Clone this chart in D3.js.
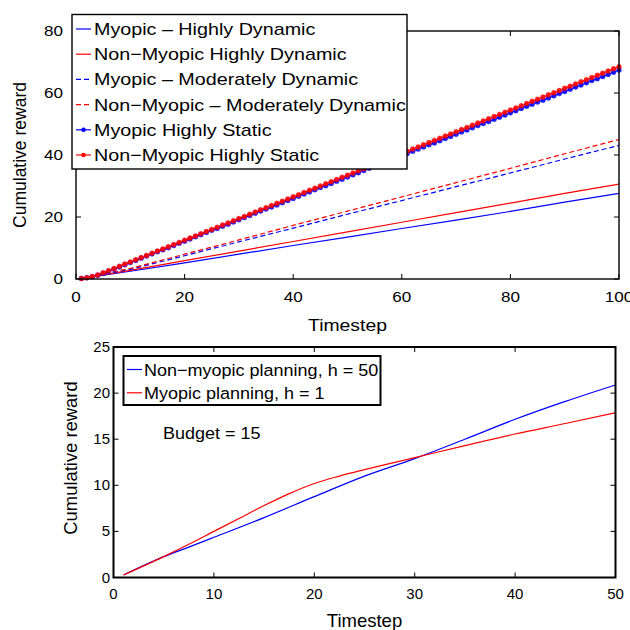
<!DOCTYPE html>
<html><head><meta charset="utf-8">
<script src="https://cdn.jsdelivr.net/npm/d3@7"></script>
<style>
body{margin:0;background:#fff;}
svg{display:block;font-family:"Liberation Sans",Arial,Helvetica,sans-serif;}
</style></head>
<body><svg id="c" width="630" height="630"></svg>
<script>
// ---------- Top chart data ----------
const topTicksX = [0,20,40,60,80,100];
const topTicksY = [0,20,40,60,80];
const dynX = [1,10,20,30,40,50,60,70,80,90,100];
const myopicHighDyn    = [0.2,2.5,5.2,8.0,10.8,13.5,16.3,19.0,21.8,24.8,27.6];
const nonMyopicHighDyn = [0.2,2.8,5.9,9.0,12.1,15.2,18.3,21.4,24.5,27.6,30.6];
const myopicModDyn     = [0.2,3.1,7.5,12.0,16.4,20.9,25.3,29.8,34.2,38.7,43.1];
const nonMyopicModDyn  = [0.2,3.4,8.0,12.6,17.3,21.9,26.5,31.1,35.7,40.4,45.0];
const staticX = d3.range(1,101);
const myopicStatic = [0.2,0.4,0.7,1.2,1.8,2.5,3.2,3.9,4.6,5.3,6.0,6.7,7.4,8.1,8.8,9.4,10.1,10.8,11.5,12.2,
 12.9,13.6,14.3,15.0,15.7,16.3,17.0,17.7,18.4,19.1,19.8,20.5,21.2,21.9,22.6,23.2,23.9,24.6,25.3,26.0,
 26.7,27.4,28.1,28.8,29.5,30.1,30.8,31.5,32.2,32.9,33.6,34.3,35.0,35.7,36.4,37.0,37.7,38.4,39.1,39.8,
 40.5,41.2,41.9,42.6,43.3,43.9,44.6,45.3,46.0,46.7,47.4,48.1,48.8,49.5,50.2,50.8,51.5,52.2,52.9,53.6,
 54.3,55.0,55.7,56.4,57.1,57.7,58.4,59.1,59.8,60.5,61.2,61.9,62.6,63.3,64.0,64.6,65.3,66.0,66.7,67.4];
const nonMyopicStatic = [0.2,0.4,0.8,1.3,2.0,2.7,3.4,4.1,4.8,5.5,6.2,6.9,7.6,8.3,9.0,9.7,10.4,11.1,11.8,12.5,
 13.2,13.9,14.6,15.3,16.0,16.7,17.4,18.1,18.8,19.5,20.2,20.9,21.6,22.3,23.0,23.7,24.4,25.1,25.8,26.5,
 27.2,27.9,28.6,29.3,30.0,30.7,31.4,32.1,32.8,33.5,34.2,34.9,35.6,36.3,37.0,37.7,38.4,39.1,39.8,40.5,
 41.2,41.9,42.6,43.3,44.0,44.7,45.4,46.1,46.8,47.5,48.2,48.9,49.6,50.3,51.0,51.7,52.4,53.1,53.8,54.5,
 55.2,55.9,56.6,57.3,58.0,58.7,59.4,60.1,60.8,61.5,62.2,62.9,63.6,64.3,65.0,65.7,66.4,67.1,67.8,68.5];
const topLegend = ["Myopic \u2013 Highly Dynamic","Non\u2212Myopic Highly Dynamic","Myopic \u2013 Moderately Dynamic",
 "Non\u2212Myopic \u2013 Moderately Dynamic","Myopic Highly Static","Non\u2212Myopic Highly Static"];

// ---------- Bottom chart data ----------
const botTicksX = [0,10,20,30,40,50];
const botTicksY = [0,5,10,15,20,25];
const nonMyopicX   = [1,5,7.5,10,15,20,25,30,35,40,45,50];
const nonMyopicH50 = [0.27,2.26,3.3,4.36,6.5,8.77,11.0,12.9,15.0,17.16,19.1,20.88];
const myopicX      = [1,5,7.5,10,12.5,15,17.5,20,22.5,25,30,35,40,45,50];
const myopicH1     = [0.27,2.26,3.6,5.0,6.4,7.8,9.1,10.2,11.0,11.7,13.0,14.3,15.56,16.7,17.88];
const botLegend = ["Non\u2212myopic planning, h = 50","Myopic planning, h = 1"];
const budgetText = "Budget = 15";

const BLUE="#0000ff", RED="#ff0000";
const svg = d3.select("#c");

function txt(g,x,y,s,size,anchor,sx){
  return g.append("text").attr("transform",`translate(${x},${y}) scale(${sx},1)`)
    .attr("text-anchor",anchor).attr("font-size",size).attr("fill","#000").text(s);
}

function frame(g, x, y, xt, yt, sw){
  const [x0,x1]=x.range(), [y0,y1]=y.range();
  const tl=5;
  xt.forEach(v=>{
    g.append("line").attr("x1",x(v)).attr("x2",x(v)).attr("y1",y0).attr("y2",y0-tl).attr("stroke","#000").attr("stroke-width",1);
    g.append("line").attr("x1",x(v)).attr("x2",x(v)).attr("y1",y1).attr("y2",y1+tl).attr("stroke","#000").attr("stroke-width",1);
  });
  yt.forEach(v=>{
    g.append("line").attr("x1",x0).attr("x2",x0+tl).attr("y1",y(v)).attr("y2",y(v)).attr("stroke","#000").attr("stroke-width",1);
    g.append("line").attr("x1",x1).attr("x2",x1-tl).attr("y1",y(v)).attr("y2",y(v)).attr("stroke","#000").attr("stroke-width",1);
  });
  g.append("rect").attr("x",x0).attr("y",y1).attr("width",x1-x0).attr("height",y0-y1)
   .attr("fill","none").attr("stroke","#000").attr("stroke-width",sw);
}

// ================= TOP =================
const SX = 1.14;
const xT = d3.scaleLinear().domain([0,100]).range([76,619]);
const yT = d3.scaleLinear().domain([0,80]).range([279,31]);
const gT = svg.append("g");
const lineT = (xs,ys)=>d3.line().x((d,i)=>xT(xs[i])).y(d=>yT(d))(ys);

[[myopicHighDyn,BLUE,null],[nonMyopicHighDyn,RED,null],[myopicModDyn,BLUE,"5,3"],[nonMyopicModDyn,RED,"5,3"]]
.forEach(([ys,c,da])=>{
  gT.append("path").attr("d",lineT(dynX,ys)).attr("fill","none").attr("stroke",c).attr("stroke-width",1.2)
    .attr("stroke-dasharray",da);
});
[[myopicStatic,BLUE],[nonMyopicStatic,RED]].forEach(([ys,c])=>{
  gT.append("path").attr("d",lineT(staticX,ys)).attr("fill","none").attr("stroke",c).attr("stroke-width",1.2);
  gT.selectAll(null).data(ys).enter().append("circle")
    .attr("cx",(d,i)=>xT(staticX[i])).attr("cy",d=>yT(d)).attr("r",2.5)
    .attr("fill",c).attr("fill-opacity",0.85).attr("stroke",c).attr("stroke-opacity",0.5).attr("stroke-width",0.6);
});
frame(gT,xT,yT,topTicksX,topTicksY,1.4);
topTicksX.forEach(v=>txt(gT,xT(v),302,v,15,"middle",SX));
topTicksY.forEach(v=>txt(gT,63,yT(v)+5,v,15,"end",SX));
txt(gT,347.5,331,"Timestep",17,"middle",SX);
gT.append("text").attr("transform","translate(26,155) rotate(-90)").attr("text-anchor","middle")
  .attr("font-size",17.5).text("Cumulative reward");

// top legend
const lgT = gT.append("g");
lgT.append("rect").attr("x",72).attr("y",14.5).attr("width",335).attr("height",154.5)
  .attr("fill","#fff").attr("stroke","#000").attr("stroke-width",1.4);
const legStyles=[[BLUE,null,false],[RED,null,false],[BLUE,"5,3",false],[RED,"5,3",false],[BLUE,null,true],[RED,null,true]];
topLegend.forEach((t,i)=>{
  const cy = 29 + i*25.2;
  const [c,da,m]=legStyles[i];
  lgT.append("line").attr("x1",76).attr("x2",91).attr("y1",cy).attr("y2",cy).attr("stroke",c)
    .attr("stroke-width",1.2).attr("stroke-dasharray",da);
  if(m) lgT.append("circle").attr("cx",83.5).attr("cy",cy).attr("r",2.3).attr("fill",c);
  txt(lgT,94,cy+6,t,17,"start",1.16);
});

// ================= BOTTOM =================
const xB = d3.scaleLinear().domain([0,50]).range([113.5,615.5]);
const yB = d3.scaleLinear().domain([0,25]).range([577.5,347]);
const gB = svg.append("g");
const lineB = d3.line().curve(d3.curveMonotoneX);
[[nonMyopicX,nonMyopicH50,BLUE],[myopicX,myopicH1,RED]].forEach(([xs,ys,c])=>{
  gB.append("path").attr("d",lineB(ys.map((d,i)=>[xB(xs[i]),yB(d)]))).attr("fill","none")
    .attr("stroke",c).attr("stroke-width",1.2);
});
frame(gB,xB,yB,botTicksX,botTicksY,2);
botTicksX.forEach(v=>txt(gB,xB(v),599,v,15,"middle",1));
botTicksY.forEach(v=>txt(gB,110,yB(v)+5,v,15,"end",1));
txt(gB,364.5,626.5,"Timestep",18.5,"middle",1);
gB.append("text").attr("transform","translate(77,458) rotate(-90)").attr("text-anchor","middle")
  .attr("font-size",18.4).text("Cumulative reward");
txt(gB,163,439,budgetText,17,"start",1.06);

const lgB = gB.append("g");
lgB.append("rect").attr("x",123.5).attr("y",356).attr("width",257).attr("height",49)
  .attr("fill","#fff").attr("stroke","#000").attr("stroke-width",2);
[BLUE,RED].forEach((c,i)=>{
  const cy = 369.5 + i*23.3;
  lgB.append("line").attr("x1",127).attr("x2",142).attr("y1",cy).attr("y2",cy).attr("stroke",c).attr("stroke-width",1.2);
  txt(lgB,144,cy+6,botLegend[i],17,"start",1.06);
});
</script></body></html>
